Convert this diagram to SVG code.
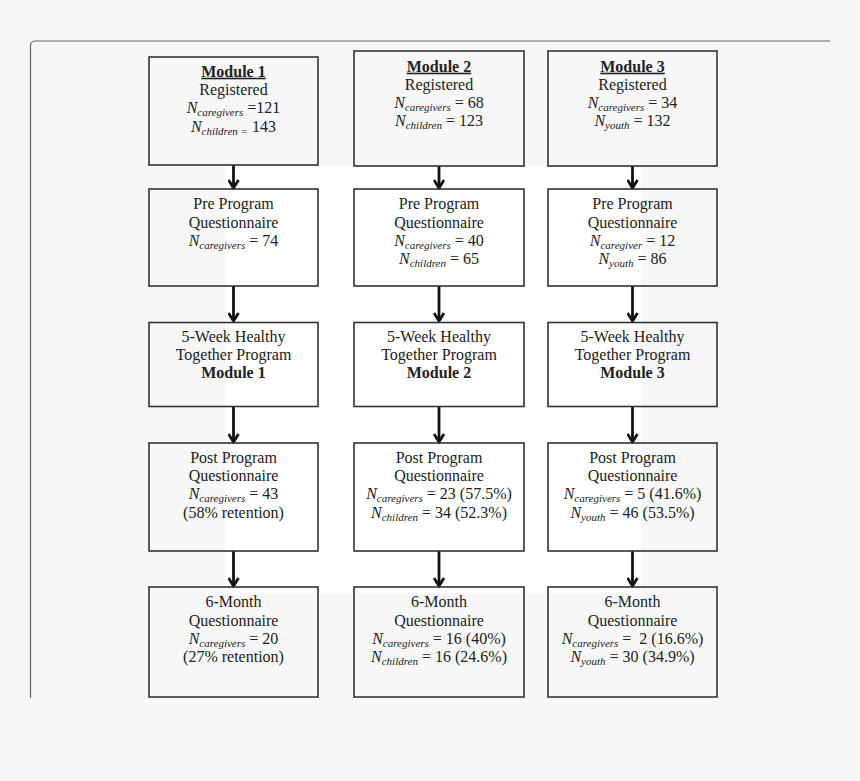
<svg xmlns="http://www.w3.org/2000/svg" width="860" height="781" viewBox="0 0 860 781">
<style>
.box{fill:none;stroke:#333;stroke-width:1.6}
text{font-family:"Liberation Serif","Times New Roman",serif;font-size:16px;fill:#222;text-anchor:middle}
.i{font-style:italic}
.s{font-style:italic;font-size:11px}
.b{font-weight:bold}
.u{font-weight:bold;text-decoration:underline}
.conn{stroke:#111;stroke-width:2.8;fill:none}
</style>
<defs>
<marker id="ah" viewBox="0 0 12 12" refX="10" refY="6" markerWidth="12" markerHeight="12" markerUnits="userSpaceOnUse" orient="auto">
<path d="M2,1 L10,6 L2,11" fill="none" stroke="#111" stroke-width="2.8"/>
</marker>
</defs>
<rect x="0" y="0" width="860" height="781" fill="#f7f7f7"/>
<rect x="225" y="165" width="416" height="428" fill="#ffffff"/>
<path d="M30.5,698 V46 Q30.5,41 35.5,41 H830" fill="none" stroke="#666" stroke-width="1.2"/>

<g id="connectors">
<line class="conn" x1="233.5" y1="165" x2="233.5" y2="188" marker-end="url(#ah)"/>
<line class="conn" x1="439" y1="166" x2="439" y2="188" marker-end="url(#ah)"/>
<line class="conn" x1="632.5" y1="166" x2="632.5" y2="188" marker-end="url(#ah)"/>
<line class="conn" x1="233.5" y1="286" x2="233.5" y2="321" marker-end="url(#ah)"/>
<line class="conn" x1="439" y1="286" x2="439" y2="321" marker-end="url(#ah)"/>
<line class="conn" x1="632.5" y1="286" x2="632.5" y2="321" marker-end="url(#ah)"/>
<line class="conn" x1="233.5" y1="406.5" x2="233.5" y2="442" marker-end="url(#ah)"/>
<line class="conn" x1="439" y1="406.5" x2="439" y2="442" marker-end="url(#ah)"/>
<line class="conn" x1="632.5" y1="406.5" x2="632.5" y2="442" marker-end="url(#ah)"/>
<line class="conn" x1="233.5" y1="551" x2="233.5" y2="586" marker-end="url(#ah)"/>
<line class="conn" x1="439" y1="551" x2="439" y2="586" marker-end="url(#ah)"/>
<line class="conn" x1="632.5" y1="551" x2="632.5" y2="586" marker-end="url(#ah)"/>
</g>

<!-- Row 1 -->
<g id="m1-registered">
<rect class="box" x="149" y="57" width="169" height="108"/>
<text x="233.5" y="76.7" class="u">Module 1</text>
<text x="233.5" y="95">Registered</text>
<text x="233.5" y="113.3"><tspan class="i">N</tspan><tspan class="s" dy="3">caregivers</tspan><tspan dy="-3"> =121</tspan></text>
<text x="233.5" y="131.7"><tspan class="i">N</tspan><tspan class="s" dy="3">children =</tspan><tspan dy="-3"> 143</tspan></text>
</g>
<g id="m2-registered">
<rect class="box" x="354" y="51" width="170" height="115"/>
<text x="439" y="71.7" class="u">Module 2</text>
<text x="439" y="89.7">Registered</text>
<text x="439" y="108"><tspan class="i">N</tspan><tspan class="s" dy="3">caregivers</tspan><tspan dy="-3"> = 68</tspan></text>
<text x="439" y="126"><tspan class="i">N</tspan><tspan class="s" dy="3">children</tspan><tspan dy="-3"> = 123</tspan></text>
</g>
<g id="m3-registered">
<rect class="box" x="548" y="51" width="169" height="115"/>
<text x="632.5" y="71.7" class="u">Module 3</text>
<text x="632.5" y="89.7">Registered</text>
<text x="632.5" y="108"><tspan class="i">N</tspan><tspan class="s" dy="3">caregivers</tspan><tspan dy="-3"> = 34</tspan></text>
<text x="632.5" y="126"><tspan class="i">N</tspan><tspan class="s" dy="3">youth</tspan><tspan dy="-3"> = 132</tspan></text>
</g>

<!-- Row 2 -->
<g id="m1-pre">
<rect class="box" x="149" y="189" width="169" height="97"/>
<text x="233.5" y="209.3">Pre Program</text>
<text x="233.5" y="227.7">Questionnaire</text>
<text x="233.5" y="246"><tspan class="i">N</tspan><tspan class="s" dy="3">caregivers</tspan><tspan dy="-3"> = 74</tspan></text>
</g>
<g id="m2-pre">
<rect class="box" x="354" y="189" width="170" height="97"/>
<text x="439" y="209.3">Pre Program</text>
<text x="439" y="227.7">Questionnaire</text>
<text x="439" y="246"><tspan class="i">N</tspan><tspan class="s" dy="3">caregivers</tspan><tspan dy="-3"> = 40</tspan></text>
<text x="439" y="264"><tspan class="i">N</tspan><tspan class="s" dy="3">children</tspan><tspan dy="-3"> = 65</tspan></text>
</g>
<g id="m3-pre">
<rect class="box" x="548" y="189" width="169" height="97"/>
<text x="632.5" y="209.3">Pre Program</text>
<text x="632.5" y="227.7">Questionnaire</text>
<text x="632.5" y="246"><tspan class="i">N</tspan><tspan class="s" dy="3">caregiver</tspan><tspan dy="-3"> = 12</tspan></text>
<text x="632.5" y="264"><tspan class="i">N</tspan><tspan class="s" dy="3">youth</tspan><tspan dy="-3"> = 86</tspan></text>
</g>

<!-- Row 3 -->
<g id="m1-program">
<rect class="box" x="149" y="322.5" width="169" height="84"/>
<text x="233.5" y="341.7">5-Week Healthy</text>
<text x="233.5" y="360">Together Program</text>
<text x="233.5" y="378.3" class="b">Module 1</text>
</g>
<g id="m2-program">
<rect class="box" x="354" y="322.5" width="170" height="84"/>
<text x="439" y="341.7">5-Week Healthy</text>
<text x="439" y="360">Together Program</text>
<text x="439" y="378.3" class="b">Module 2</text>
</g>
<g id="m3-program">
<rect class="box" x="548" y="322.5" width="169" height="84"/>
<text x="632.5" y="341.7">5-Week Healthy</text>
<text x="632.5" y="360">Together Program</text>
<text x="632.5" y="378.3" class="b">Module 3</text>
</g>

<!-- Row 4 -->
<g id="m1-post">
<rect class="box" x="149" y="443" width="169" height="108"/>
<text x="233.5" y="462.7">Post Program</text>
<text x="233.5" y="481">Questionnaire</text>
<text x="233.5" y="499.3"><tspan class="i">N</tspan><tspan class="s" dy="3">caregivers</tspan><tspan dy="-3"> = 43</tspan></text>
<text x="233.5" y="517.7">(58% retention)</text>
</g>
<g id="m2-post">
<rect class="box" x="354" y="443" width="170" height="108"/>
<text x="439" y="462.7">Post Program</text>
<text x="439" y="481">Questionnaire</text>
<text x="439" y="499.3"><tspan class="i">N</tspan><tspan class="s" dy="3">caregivers</tspan><tspan dy="-3"> = 23 (57.5%)</tspan></text>
<text x="439" y="517.7"><tspan class="i">N</tspan><tspan class="s" dy="3">children</tspan><tspan dy="-3"> = 34 (52.3%)</tspan></text>
</g>
<g id="m3-post">
<rect class="box" x="548" y="443" width="169" height="108"/>
<text x="632.5" y="462.7">Post Program</text>
<text x="632.5" y="481">Questionnaire</text>
<text x="632.5" y="499.3"><tspan class="i">N</tspan><tspan class="s" dy="3">caregivers</tspan><tspan dy="-3"> = 5 (41.6%)</tspan></text>
<text x="632.5" y="517.7"><tspan class="i">N</tspan><tspan class="s" dy="3">youth</tspan><tspan dy="-3"> = 46 (53.5%)</tspan></text>
</g>

<!-- Row 5 -->
<g id="m1-6month">
<rect class="box" x="149" y="587" width="169" height="110"/>
<text x="233.5" y="607.3">6-Month</text>
<text x="233.5" y="625.7">Questionnaire</text>
<text x="233.5" y="644"><tspan class="i">N</tspan><tspan class="s" dy="3">caregivers</tspan><tspan dy="-3"> = 20</tspan></text>
<text x="233.5" y="662.3">(27% retention)</text>
</g>
<g id="m2-6month">
<rect class="box" x="354" y="587" width="170" height="110"/>
<text x="439" y="607.3">6-Month</text>
<text x="439" y="625.7">Questionnaire</text>
<text x="439" y="644"><tspan class="i">N</tspan><tspan class="s" dy="3">caregivers</tspan><tspan dy="-3"> = 16 (40%)</tspan></text>
<text x="439" y="662.3"><tspan class="i">N</tspan><tspan class="s" dy="3">children</tspan><tspan dy="-3"> = 16 (24.6%)</tspan></text>
</g>
<g id="m3-6month">
<rect class="box" x="548" y="587" width="169" height="110"/>
<text x="632.5" y="607.3">6-Month</text>
<text x="632.5" y="625.7">Questionnaire</text>
<text x="632.5" y="644"><tspan class="i">N</tspan><tspan class="s" dy="3">caregivers</tspan><tspan dy="-3"> = &#160;2 (16.6%)</tspan></text>
<text x="632.5" y="662.3"><tspan class="i">N</tspan><tspan class="s" dy="3">youth</tspan><tspan dy="-3"> = 30 (34.9%)</tspan></text>
</g>
</svg>
